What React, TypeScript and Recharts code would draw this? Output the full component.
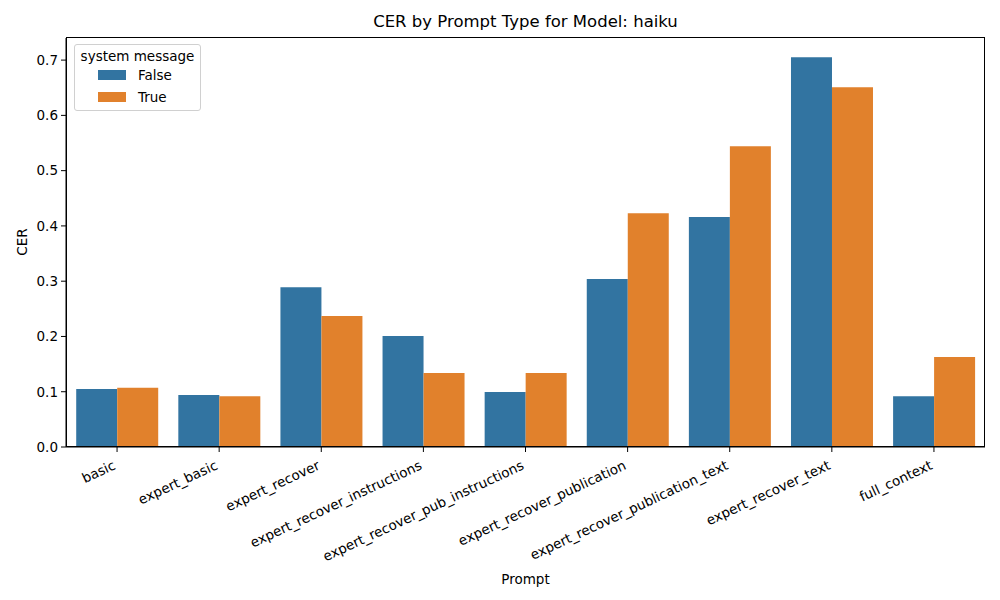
import { BarChart, Bar, XAxis, YAxis } from "recharts";

const prompts = [
  "basic",
  "expert_basic",
  "expert_recover",
  "expert_recover_instructions",
  "expert_recover_pub_instructions",
  "expert_recover_publication",
  "expert_recover_publication_text",
  "expert_recover_text",
  "full_context",
];
const cerFalse = [0.105, 0.094, 0.289, 0.201, 0.0995, 0.304, 0.416, 0.705, 0.092];
const cerTrue = [0.107, 0.092, 0.237, 0.134, 0.134, 0.423, 0.544, 0.651, 0.163];
const yTicks = [0, 0.1, 0.2, 0.3, 0.4, 0.5, 0.6, 0.7];

const BLUE = "#3274a1";
const ORANGE = "#e1812c";
const FONT = "'DejaVu Sans', sans-serif";

const data = prompts.map((p, i) => ({ prompt: p, False: cerFalse[i], True: cerTrue[i] }));

// rotated tick labels, right-aligned to the tick (like matplotlib rotation=25, ha=right)
const RotTick = ({ x, y, payload }: any) => (
  <g transform={`translate(${x - 5},${y + 5}) rotate(-25)`}>
    <text x={0} y={0} dy="0.78em" textAnchor="end" fontSize={13.5} fill="#000" fontFamily={FONT}>
      {payload.value}
    </text>
  </g>
);

const legendItems = [
  ["False", BLUE],
  ["True", ORANGE],
];

export default function App() {
  return (
    <div style={{ position: "absolute", left: 0, top: 0, width: 1000, height: 600, background: "#fff" }}>
      <div
        style={{
          position: "absolute",
          left: 66,
          width: 919,
          top: 12,
          textAlign: "center",
          fontFamily: FONT,
          fontSize: 16.5,
          color: "#000",
        }}
      >
        CER by Prompt Type for Model: haiku
      </div>
      <BarChart
        width={1000}
        height={600}
        data={data}
        margin={{ top: 38, right: 15, bottom: 0, left: 0 }}
        barCategoryGap="10%"
        barGap={0}
        style={{ fontFamily: FONT }}
      >
        <XAxis
          dataKey="prompt"
          height={153}
          interval={0}
          tick={<RotTick />}
          tickSize={5}
          tickLine={{ stroke: "#000" }}
          axisLine={{ stroke: "#000" }}
          label={{ value: "Prompt", position: "insideBottom", offset: 16, fill: "#000", fontSize: 13.5 }}
        />
        <YAxis
          width={66}
          domain={[0, 0.74]}
          ticks={yTicks}
          tickFormatter={(v: number) => v.toFixed(1)}
          tickSize={5}
          tickMargin={3}
          tick={{ fill: "#000", fontSize: 13.5 }}
          tickLine={{ stroke: "#000" }}
          axisLine={{ stroke: "#000" }}
          label={{
            content: () => (
              <text x={22} y={242} transform="rotate(-90,22,242)" textAnchor="middle" dominantBaseline="central" fontSize={13.5} fill="#000" fontFamily={FONT}>
                CER
              </text>
            ),
          }}
        />
        <Bar dataKey="False" fill={BLUE} isAnimationActive={false} />
        <Bar dataKey="True" fill={ORANGE} isAnimationActive={false} />
      </BarChart>
      {/* axes frame (top and right spines) */}
      <div
        style={{
          position: "absolute",
          left: 66,
          top: 37,
          width: 919,
          height: 410,
          border: "1px solid #000",
          boxSizing: "border-box",
          pointerEvents: "none",
        }}
      />
      {/* legend */}
      <div
        style={{
          position: "absolute",
          left: 74,
          top: 44,
          width: 127,
          height: 67,
          boxSizing: "border-box",
          border: "1px solid #d0d0d0",
          borderRadius: 3,
          background: "rgba(255,255,255,0.8)",
          fontFamily: FONT,
          fontSize: 13.5,
          color: "#000",
          whiteSpace: "nowrap",
        }}
      >
        <div style={{ textAlign: "center", lineHeight: "16px", marginTop: 3 }}>system message</div>
        {legendItems.map(([label, color]) => (
          <div key={label} style={{ display: "flex", alignItems: "center", height: 22, paddingLeft: 23 }}>
            <div style={{ width: 28, height: 10, background: color, marginRight: 12 }} />
            <span>{label}</span>
          </div>
        ))}
      </div>
    </div>
  );
}
